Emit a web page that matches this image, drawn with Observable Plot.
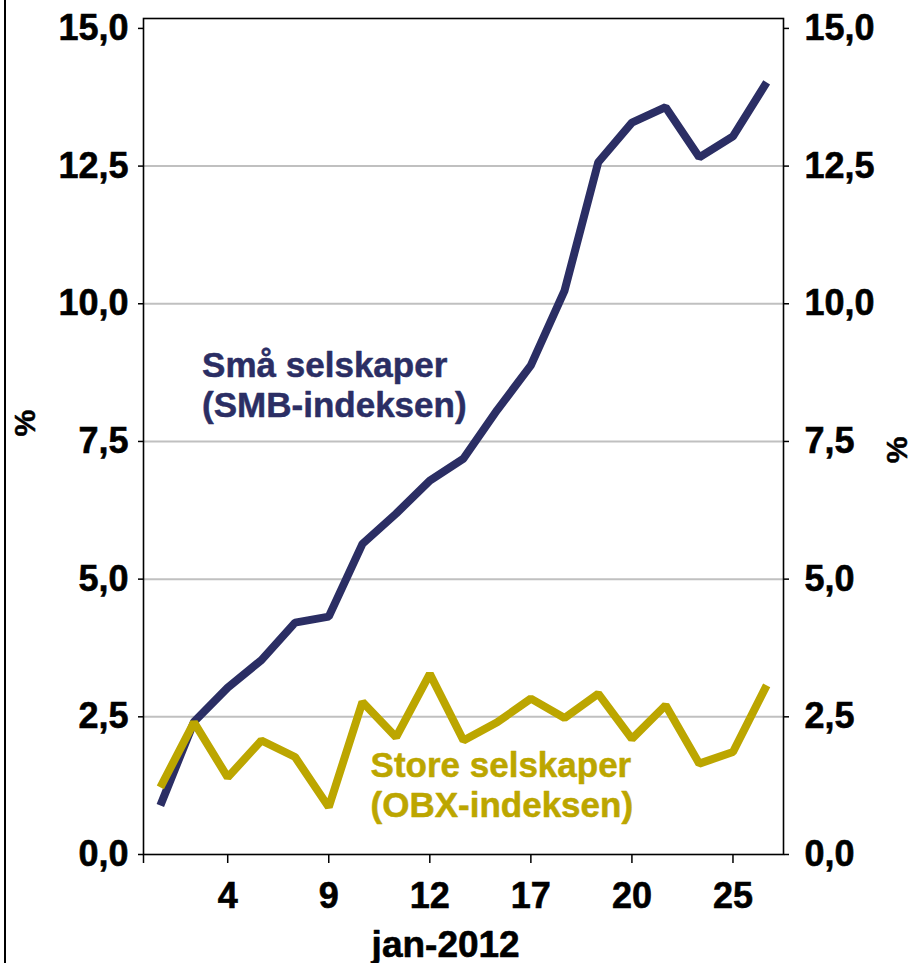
<!DOCTYPE html>
<html>
<head>
<meta charset="utf-8">
<script src="https://cdn.jsdelivr.net/npm/d3@7"></script>
<script src="https://cdn.jsdelivr.net/npm/@observablehq/plot@0.6"></script>
<style>
  html, body { margin: 0; padding: 0; background: #fff; }
  #wrap { position: relative; width: 916px; height: 963px; overflow: hidden; }
  #edge { position: absolute; left: 4px; top: 0; width: 2px; height: 963px; background: #000; }
  g[aria-label$="tick label"] text { stroke: #000; stroke-width: 0.6px; }
</style>
</head>
<body>
<div id="wrap"><div id="edge"></div></div>
<script>
// Trading days, January 2012
const days = ["2","3","4","5","6","9","10","11","12","13","16","17","18","19","20","23","24","25","26"];
// Små selskaper (SMB-indeksen), %
const smb = [0.89, 2.41, 3.03, 3.53, 4.21, 4.32, 5.64, 6.19, 6.79, 7.19, 8.07, 8.88, 10.24, 12.57, 13.29, 13.57, 12.66, 13.04, 14.02];
// Store selskaper (OBX-indeksen), %
const obx = [1.22, 2.40, 1.40, 2.07, 1.77, 0.86, 2.77, 2.13, 3.28, 2.07, 2.40, 2.83, 2.48, 2.92, 2.10, 2.71, 1.65, 1.86, 3.07];

const xTickLabels = ["4","9","12","17","20","25"];
const yTicks = [0, 2.5, 5, 7.5, 10, 12.5, 15];
const yTickLabels = ["0,0","2,5","5,0","7,5","10,0","12,5","15,0"];
const gridValues = [2.5, 5, 7.5, 10, 12.5];
const seriesLabels = ["Små selskaper\n(SMB-indeksen)", "Store selskaper\n(OBX-indeksen)"];
const xTitle = "jan-2012";
const yTitle = "%";

const navy = "#2B2E64";
const gold = "#BCA600";

const smbData = days.map((d, i) => ({i, v: smb[i]}));
const obxData = days.map((d, i) => ({i, v: obx[i]}));
const xTicks = [-0.5, ...xTickLabels.map(l => days.indexOf(l))];
const xFmt = i => (i < 0 ? "" : days[i]);
const yFmt = v => yTickLabels[yTicks.indexOf(v)];

const chart = Plot.plot({
  width: 916,
  height: 963,
  marginTop: 18,
  marginRight: 133,
  marginBottom: 109,
  marginLeft: 143,
  style: {fontFamily: "'Liberation Sans', Arial, sans-serif", fontSize: "36px", fontWeight: "bold", color: "#000", background: "transparent"},
  x: {type: "linear", domain: [-0.5, days.length - 0.5]},
  y: {domain: [0, 15.18]},
  marks: [
    Plot.gridY(gridValues, {stroke: "#c0c0c0", strokeOpacity: 1, strokeWidth: 2}),
    Plot.frame({stroke: "#000", strokeWidth: 1.6}),
    Plot.axisY(yTicks, {anchor: "left", tickFormat: yFmt, tickSize: 5, tickPadding: 10, label: null, strokeWidth: 1.5}),
    Plot.axisY(yTicks, {anchor: "right", tickFormat: yFmt, tickSize: 5, tickPadding: 16, label: null, strokeWidth: 1.5}),
    Plot.axisX(xTicks, {anchor: "bottom", tickFormat: xFmt, tickSize: 9, tickPadding: 19, label: null, strokeWidth: 1.5}),
    Plot.line(smbData, {x: "i", y: "v", stroke: navy, strokeWidth: 8, strokeLinecap: "butt", strokeLinejoin: "miter"}),
    Plot.line(obxData, {x: "i", y: "v", stroke: gold, strokeWidth: 8, strokeLinecap: "butt", strokeLinejoin: "miter"}),
    Plot.text([seriesLabels[0]], {x: 1.24, y: 7.95, text: d => d, fill: navy, stroke: navy, strokeWidth: 0.5, fontSize: 35, textAnchor: "start", lineAnchor: "bottom", lineHeight: 1.13}),
    Plot.text([seriesLabels[1]], {x: 6.24, y: 0.69, text: d => d, fill: gold, stroke: gold, strokeWidth: 0.5, fontSize: 35, textAnchor: "start", lineAnchor: "bottom", lineHeight: 1.13}),
    Plot.text([xTitle], {x: 8.47, frameAnchor: "bottom", dy: 102, text: d => d, fill: "#000", stroke: "#000", strokeWidth: 0.6, fontSize: 37, lineAnchor: "bottom"}),
    Plot.text([yTitle], {frameAnchor: "left", dx: -118, rotate: -90, text: d => d, fill: "#000", stroke: "#000", strokeWidth: 0.5, fontSize: 30}),
    Plot.text([yTitle], {frameAnchor: "right", dx: 114, rotate: -90, text: d => d, fill: "#000", stroke: "#000", strokeWidth: 0.5, fontSize: 30})
  ]
});
document.getElementById("wrap").appendChild(chart);
chart.style.position = "absolute";
chart.style.left = "0";
chart.style.top = "0";
</script>
</body>
</html>
